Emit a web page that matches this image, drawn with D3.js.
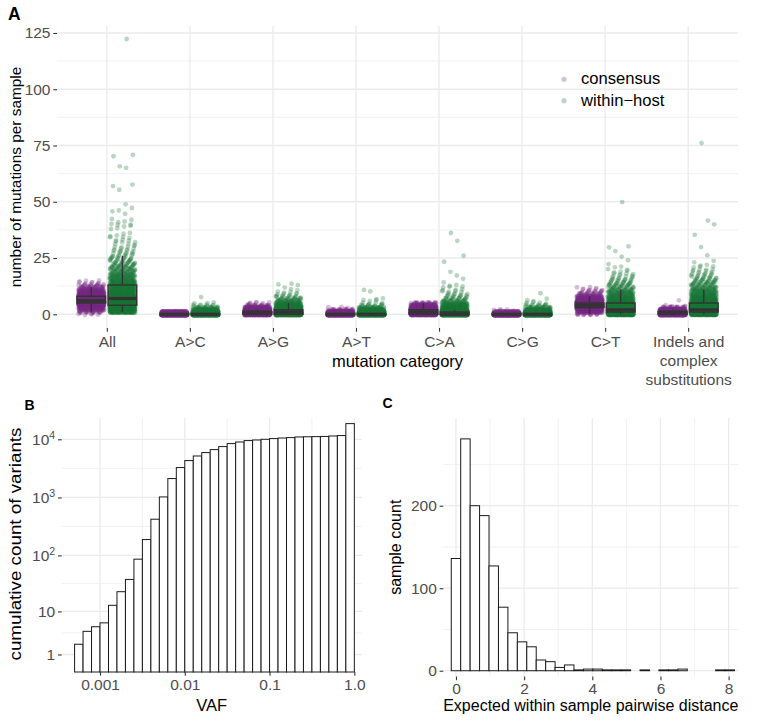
<!DOCTYPE html>
<html><head><meta charset="utf-8">
<script src="https://cdn.jsdelivr.net/npm/d3@7/dist/d3.min.js"></script>
<style>
body{margin:0;background:#fff;}
svg text{font-family:"Liberation Sans", Arial, Helvetica, sans-serif;}
</style></head><body>
<svg id="chart" width="760" height="721"></svg>
<script>
// ---------------- DATA ----------------
// Panel A: mutation categories and per-sample counts, as [value, number of samples]
const categories = ["All", "A>C", "A>G", "A>T", "C>A", "C>G", "C>T", "Indels and\ncomplex\nsubstitutions"];
const groups = ["consensus", "within\u2212host"];

const consAll = [[0,5],[1,20],[2,40],[3,70],[4,120],[5,170],[6,200],[7,170],[8,140],[9,100],[10,70],[11,40],[12,25],[13,12],[14,6],[15,3]];
const hostAll = [[1,90],[2,90],[3,110],[4,115],[5,100],[6,95],[7,90],[8,80],[9,70],[10,60],[11,55],[12,50],[13,45],[14,40],[15,35],[16,30],[17,27],[18,24],[19,20],[20,18],[21,15],[22,13],[23,11],[24,10],[25,8],[26,7],[27,6],[28,5],[29,4],[30,4],[31,3],[32,3],[33,3],[34,3],[35,2],[36,2],[38,2],[39,2],[40,3],[41,2],[42,2],[45,1],[46,2],[47,1],[49,1],[55,1],[57,1],[58,1],[65,1],[66,1],[70,1],[71,1],[122,1]];
const consAC = [[0,1080],[1,110]];
const hostAC = [[0,900],[1,200],[2,60],[3,25],[4,8],[5,3],[8,1]];
const consAG = [[0,330],[1,600],[2,200],[3,70],[4,20],[5,6]];
const hostAG = [[0,380],[1,330],[2,200],[3,120],[4,70],[5,40],[6,25],[7,15],[8,10],[9,5],[10,3],[11,2],[12,1],[13,2],[14,1]];
const consAT = [[0,1000],[1,160],[2,25],[3,3]];
const hostAT = [[0,920],[1,180],[2,70],[3,30],[4,10],[5,5],[6,3],[7,2],[10,1],[11,1]];
const consCA = [[0,300],[1,330],[2,300],[3,160],[4,70],[5,25]];
const hostCA = [[0,680],[1,340],[2,110],[3,80],[4,50],[5,30],[6,20],[7,12],[8,8],[9,6],[10,4],[11,3],[12,3],[13,2],[14,1],[16,1],[17,1],[19,1],[23,1],[26,1],[33,1],[36,1]];
const consCG = [[0,1100],[1,80],[2,5]];
const hostCG = [[0,950],[1,200],[2,60],[3,25],[4,10],[5,4],[6,2],[7,1],[9,1]];
const consCT = [[0,15],[1,50],[2,120],[3,220],[4,280],[5,220],[6,130],[7,70],[8,40],[9,20],[10,10],[11,6],[12,3]];
const hostCT = [[0,200],[1,250],[2,200],[3,140],[4,110],[5,90],[6,65],[7,50],[8,40],[9,30],[10,25],[11,20],[12,15],[13,12],[14,10],[15,8],[16,6],[17,5],[18,4],[19,3],[20,2],[21,2],[22,1],[24,1],[26,1],[28,1],[30,2],[50,1]];
const consIN = [[0,550],[1,450],[2,150],[3,25],[4,3],[6,1]];
const hostIN = [[0,150],[1,260],[2,330],[3,150],[4,120],[5,95],[6,70],[7,55],[8,45],[9,35],[10,30],[11,25],[12,20],[13,17],[14,14],[15,11],[16,9],[17,7],[18,6],[19,4],[20,4],[21,3],[22,2],[23,1],[24,1],[26,1],[30,1],[35,1],[40,1],[42,1],[76,1]];
const yTicksA = [0, 25, 50, 75, 100, 125];

// Panel B: cumulative count of variants per log10(VAF) bin
const vafMinLog = -3.3;
const vafBinLog = 0.1;
const vafCumCounts = [2, 4, 5, 6, 13, 23, 38, 86, 188, 422, 1020, 2113, 3265, 4305, 5165, 5906, 6650, 7495, 8441, 8990, 9500, 9730, 10000, 10280, 10520, 10690, 10960, 11050, 11120, 11200, 11400, 11580, 18600];
const vafTicks = [0.001, 0.01, 0.1, 1];
const vafTickLabels = ["0.001", "0.01", "0.1", "1.0"];
const countTicksB = [1, 10, 100, 1000, 10000];

// Panel C: histogram of expected within-sample pairwise distance
const distBinWidth = 0.277;
const distCounts = [136, 281, 200, 188, 127, 77, 46, 35, 29, 13, 11, 4, 7, 1, 2, 2, 1, 1, 1, 0, 1, 0, 1, 1, 2, 0, 0, 0, 1, 1];
const distTicks = [0, 2, 4, 6, 8];
const countTicksC = [0, 100, 200];

// ---------------- DRAWING ----------------
const svg = d3.select("#chart");
const FONT = '"Liberation Sans", Arial, Helvetica, sans-serif';
const GRID = "#ebebeb";
const TICKTXT = "#4d4d4d";
const TS = 15.5;

function styleAxis(g){
  g.select(".domain").remove();
  g.selectAll(".tick line").attr("stroke", "#333333").attr("stroke-width", 1.1);
  g.selectAll(".tick text").attr("fill", TICKTXT).attr("font-size", TS).attr("font-family", FONT);
  g.attr("font-family", FONT).attr("font-size", TS);
}
function hline(g, y, x0, x1, w){ g.append("line").attr("x1", x0).attr("x2", x1).attr("y1", y).attr("y2", y).attr("stroke", GRID).attr("stroke-width", w); }
function vline(g, x, y0, y1, w){ g.append("line").attr("x1", x).attr("x2", x).attr("y1", y0).attr("y2", y1).attr("stroke", GRID).attr("stroke-width", w); }

// ===== Panel A =====
const A = {l:57, r:738, t:26, b:328};
const xA = d3.scalePoint().domain(categories).range([A.l, A.r]).padding(0.6);
const yA = d3.scaleLinear().domain([-6.1, 128.1]).range([A.b, A.t]);
const stepA = xA.step();
const gridA = svg.append("g");
for (let i = 0; i < yTicksA.length - 1; i++) hline(gridA, yA((yTicksA[i] + yTicksA[i+1]) / 2), A.l, A.r, 0.7);
yTicksA.forEach(v => hline(gridA, yA(v), A.l, A.r, 1.3));
categories.forEach(c => vline(gridA, xA(c), A.t, A.b, 1.3));

const seriesA = [
  [consAll, hostAll], [consAC, hostAC], [consAG, hostAG], [consAT, hostAT],
  [consCA, hostCA], [consCG, hostCG], [consCT, hostCT], [consIN, hostIN]
];
const groupColors = ["#762a83", "#1b7837"];
const dodge = [-0.1875, 0.1875];
const jitW = 0.155 * stepA;
const frac = x => x - Math.floor(x);
const points = [];
const boxes = [];
seriesA.forEach((pair, ci) => {
  pair.forEach((counts, gi) => {
    const cx = xA(categories[ci]) + dodge[gi] * stepA;
    let idx = 0;
    const vals = [];
    counts.forEach(([v, n]) => {
      for (let k = 0; k < n; k++) {
        const jx = frac(0.5 + idx * 0.7548776662);
        const jy = frac(0.5 + idx * 0.5698402910);
        points.push({x: cx + (jx - 0.5) * 2 * jitW, v: v, jy: (jy - 0.5) * 0.8, g: gi});
        vals.push(v);
        idx++;
      }
    });
    vals.sort(d3.ascending);
    const q1 = d3.quantileSorted(vals, 0.25), med = d3.quantileSorted(vals, 0.5), q3 = d3.quantileSorted(vals, 0.75);
    const iqr = q3 - q1;
    const lo = d3.min(vals.filter(v => v >= q1 - 1.5 * iqr));
    const hi = d3.max(vals.filter(v => v <= q3 + 1.5 * iqr));
    boxes.push({cx, q1, med, q3, lo, hi});
  });
});
svg.append("g").selectAll("circle").data(points).join("circle")
  .attr("cx", d => d.x).attr("cy", d => yA(d.v + d.jy)).attr("r", 2.4)
  .attr("fill", d => groupColors[d.g]).attr("fill-opacity", 0.3);

const bw = 0.345 * stepA;
const boxG = svg.append("g").attr("stroke", "#333333").attr("fill", "none");
boxes.forEach(b => {
  boxG.append("line").attr("x1", b.cx).attr("x2", b.cx).attr("y1", yA(b.q3)).attr("y2", yA(b.hi)).attr("stroke-width", 1.4);
  boxG.append("line").attr("x1", b.cx).attr("x2", b.cx).attr("y1", yA(b.q1)).attr("y2", yA(b.lo)).attr("stroke-width", 1.4);
  boxG.append("rect").attr("x", b.cx - bw / 2).attr("width", bw).attr("y", yA(b.q3)).attr("height", yA(b.q1) - yA(b.q3)).attr("stroke-width", 1.4);
  boxG.append("line").attr("x1", b.cx - bw / 2).attr("x2", b.cx + bw / 2).attr("y1", yA(b.med)).attr("y2", yA(b.med)).attr("stroke-width", 3.2);
});

const axYA = svg.append("g").attr("transform", `translate(${A.l},0)`)
  .call(d3.axisLeft(yA).tickValues(yTicksA).tickSize(3.7).tickPadding(2.8));
styleAxis(axYA);
const axXA = svg.append("g").attr("transform", `translate(0,${A.b})`)
  .call(d3.axisBottom(xA).tickSize(3.7).tickPadding(3.9));
styleAxis(axXA);
axXA.selectAll(".tick text").each(function(d){
  const t = d3.select(this); const lines = d.split("\n"); t.text(null);
  lines.forEach((ln, i) => t.append("tspan").attr("x", 0).attr("dy", i === 0 ? "0.71em" : 19.3).text(ln));
}).attr("dy", null);

svg.append("text").attr("transform", `translate(16,${(A.t + A.b) / 2}) rotate(-90)`)
  .attr("text-anchor", "middle").attr("dy", "0.35em").attr("font-size", 15.4).attr("fill", "#000")
  .text("number of mutations per sample");
svg.append("text").attr("x", (A.l + A.r) / 2).attr("y", 366.8).attr("text-anchor", "middle")
  .attr("font-size", 16.5).attr("fill", "#000").text("mutation category");
svg.append("text").attr("x", 8).attr("y", 20).attr("font-size", 17.5).attr("font-weight", "bold").text("A");

// legend
const leg = svg.append("g");
groups.forEach((g, i) => {
  leg.append("circle").attr("cx", 564).attr("cy", 79.3 + i * 21.4).attr("r", 2.6).attr("fill", groupColors[i]).attr("fill-opacity", 0.3);
  leg.append("text").attr("x", 581).attr("y", 84 + i * 21.6).attr("font-size", 16.6).attr("fill", "#000").text(g);
});

// ===== Panel B =====
const B = {l:61.7, r:361.7, t:418, b:672};
const xB = d3.scaleLog().domain([Math.pow(10, -3.452), Math.pow(10, 0.087)]).range([B.l, B.r]);
const yB = d3.scaleSymlog().constant(1).domain([0, 23230]).range([B.b, B.t]);
const gridB = svg.append("g");
for (let i = 0; i < countTicksB.length - 1; i++) hline(gridB, (yB(countTicksB[i]) + yB(countTicksB[i+1])) / 2, B.l, B.r, 0.7);
countTicksB.forEach(v => hline(gridB, yB(v), B.l, B.r, 1.3));
[-2.5, -1.5, -0.5].forEach(e => vline(gridB, xB(Math.pow(10, e)), B.t, B.b, 0.7));
vafTicks.forEach(v => vline(gridB, xB(v), B.t, B.b, 1.3));
svg.append("g").selectAll("rect").data(vafCumCounts).join("rect")
  .attr("x", (d, i) => xB(Math.pow(10, vafMinLog + i * vafBinLog)))
  .attr("width", (d, i) => xB(Math.pow(10, vafMinLog + (i + 1) * vafBinLog)) - xB(Math.pow(10, vafMinLog + i * vafBinLog)))
  .attr("y", d => yB(d)).attr("height", d => yB(0) - yB(d))
  .attr("fill", "#fff").attr("stroke", "#1a1a1a").attr("stroke-width", 1);
const axYB = svg.append("g").attr("transform", `translate(${B.l},0)`)
  .call(d3.axisLeft(yB).tickValues(countTicksB).tickSize(3.7).tickPadding(2.8).tickFormat(() => ""));
styleAxis(axYB);
axYB.selectAll(".tick text").each(function(d){
  const t = d3.select(this); const e = Math.round(Math.log10(d));
  if (e <= 1) { t.text(String(d)); }
  else { t.append("tspan").text("10"); t.append("tspan").attr("font-size", 10.5).attr("dy", -6).text(String(e)); }
});
const axXB = svg.append("g").attr("transform", `translate(0,${B.b})`)
  .call(d3.axisBottom(xB).tickValues(vafTicks).tickSize(3.7).tickPadding(3.6).tickFormat((d, i) => vafTickLabels[i]));
styleAxis(axXB);
svg.append("text").attr("transform", `translate(15,${(B.t + B.b) / 2 - 1}) rotate(-90)`)
  .attr("text-anchor", "middle").attr("dy", "0.35em").attr("font-size", 16).attr("fill", "#000")
  .attr("textLength", 233).attr("lengthAdjust", "spacingAndGlyphs")
  .text("cumulative count of variants");
svg.append("text").attr("x", (B.l + B.r) / 2).attr("y", 711).attr("text-anchor", "middle")
  .attr("font-size", 16.5).attr("fill", "#000").text("VAF");
svg.append("text").attr("x", 24.5).attr("y", 410).attr("font-size", 14).attr("font-weight", "bold").text("B");

// ===== Panel C =====
const C = {l:443.3, r:738.3, t:418, b:676.5};
const xC = d3.scaleLinear().domain([-0.372, 8.284]).range([C.l, C.r]);
const yC = d3.scaleLinear().domain([-7.0, 306.3]).range([C.b, C.t]);
const gridC = svg.append("g");
[50, 150, 250].forEach(v => hline(gridC, yC(v), C.l, C.r, 0.7));
countTicksC.forEach(v => hline(gridC, yC(v), C.l, C.r, 1.3));
[1, 3, 5, 7].forEach(v => vline(gridC, xC(v), C.t, C.b, 0.7));
distTicks.forEach(v => vline(gridC, xC(v), C.t, C.b, 1.3));
svg.append("g").selectAll("rect").data(distCounts.map((c, i) => ({c, i})).filter(d => d.c > 0)).join("rect")
  .attr("x", d => xC((d.i - 0.5) * distBinWidth))
  .attr("width", d => xC((d.i + 0.5) * distBinWidth) - xC((d.i - 0.5) * distBinWidth))
  .attr("y", d => yC(d.c)).attr("height", d => yC(0) - yC(d.c))
  .attr("fill", "#fff").attr("stroke", "#1a1a1a").attr("stroke-width", 1);
const axYC = svg.append("g").attr("transform", `translate(${C.l},0)`)
  .call(d3.axisLeft(yC).tickValues(countTicksC).tickSize(3.7).tickPadding(2.8));
styleAxis(axYC);
const axXC = svg.append("g").attr("transform", `translate(0,${C.b})`)
  .call(d3.axisBottom(xC).tickValues(distTicks).tickSize(3.7).tickPadding(2.6));
styleAxis(axXC);
svg.append("text").attr("transform", `translate(395,${(C.t + C.b) / 2}) rotate(-90)`)
  .attr("text-anchor", "middle").attr("dy", "0.35em").attr("font-size", 16).attr("fill", "#000")
  .text("sample count");
svg.append("text").attr("x", (C.l + C.r) / 2).attr("y", 711).attr("text-anchor", "middle")
  .attr("font-size", 16).attr("fill", "#000").text("Expected within sample pairwise distance");
svg.append("text").attr("x", 382.5).attr("y", 408.3).attr("font-size", 14).attr("font-weight", "bold").text("C");
</script>
</body></html>
